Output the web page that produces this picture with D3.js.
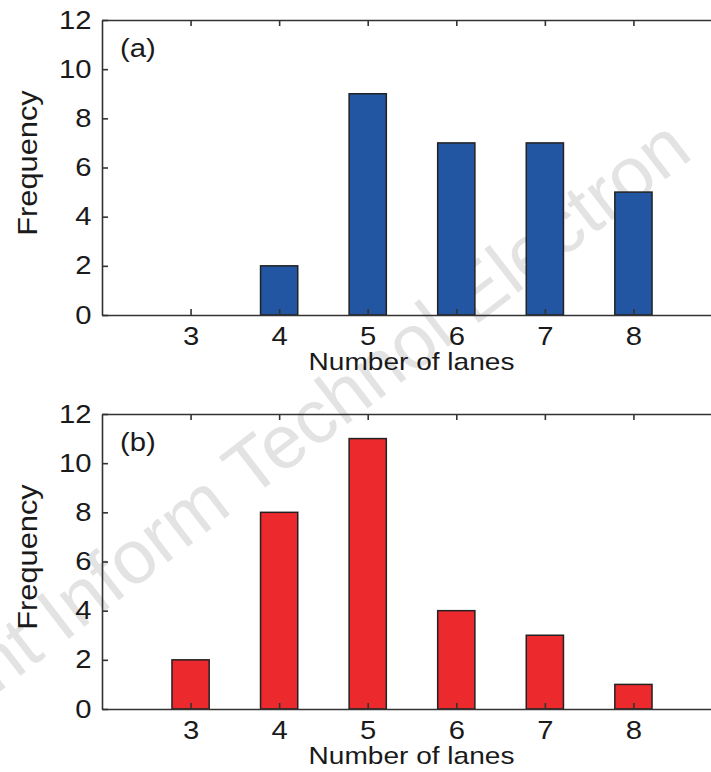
<!DOCTYPE html>
<html>
<head>
<meta charset="utf-8">
<script src="https://cdn.jsdelivr.net/npm/d3@7"></script>
<style>
  html, body { margin: 0; padding: 0; background: #fff; }
  svg { display: block; }
  text { font-family: "Liberation Sans", Arial, Helvetica, sans-serif; }
</style>
</head>
<body>
<script>
// ---- data ----
const lanes = [3, 4, 5, 6, 7, 8];
const freqA = [0, 2, 9, 7, 7, 5];
const freqB = [2, 8, 11, 4, 3, 1];
const yTicks = [0, 2, 4, 6, 8, 10, 12];
const xTicks = [3, 4, 5, 6, 7, 8];
const panelLabels = ["(a)", "(b)"];
const xLabel = "Number of lanes";
const yLabel = "Frequency";
const watermark = "Front Inform Technol Electron";

const W = 711, H = 772;
const svg = d3.select("body").append("svg").attr("width", W).attr("height", H);

// watermark (beneath everything)
svg.append("text")
  .attr("transform", "translate(-94,764) rotate(-37.6)")
  .attr("text-anchor", "start")
  .attr("font-size", 76)
  .attr("fill", "#e3e3e3")
  .text(watermark);

const SX = 1.17; // horizontal stretch of the original typesetting
const x = d3.scaleLinear().domain([2, 9]).range([102, 722]);
const barW = 0.42;
const fmt = d3.format("d");

const panels = [
  { vals: freqA, top: 20, bottom: 315, fill: "#2356a2", label: panelLabels[0] },
  { vals: freqB, top: 414, bottom: 709, fill: "#ec2a2d", label: panelLabels[1] }
];

panels.forEach(p => {
  const y = d3.scaleLinear().domain([0, 12]).range([p.bottom, p.top]);
  const g = svg.append("g");

  // bars
  g.selectAll("rect.bar")
    .data(lanes.map((l, i) => ({ l, v: p.vals[i] })).filter(d => d.v > 0))
    .join("rect")
    .attr("class", "bar")
    .attr("x", d => x(d.l - barW / 2))
    .attr("width", d => x(d.l + barW / 2) - x(d.l - barW / 2))
    .attr("y", d => y(d.v))
    .attr("height", d => y(0) - y(d.v))
    .attr("fill", p.fill)
    .attr("stroke", "#222")
    .attr("stroke-width", 1.5);

  // left axis
  const ya = g.append("g")
    .attr("transform", `translate(${x(2)},0)`)
    .call(d3.axisLeft(y).tickValues(yTicks).tickFormat(fmt).tickSizeInner(-6).tickSizeOuter(0).tickPadding(10.5));
  // bottom axis
  const xa = g.append("g")
    .attr("transform", `translate(0,${p.bottom})`)
    .call(d3.axisBottom(x).tickValues(xTicks).tickFormat(fmt).tickSizeInner(-6).tickSizeOuter(0).tickPadding(12));
  // top axis (ticks only)
  const ta = g.append("g")
    .attr("transform", `translate(0,${p.top})`)
    .call(d3.axisTop(x).tickValues(xTicks).tickSizeInner(-6).tickSizeOuter(0).tickFormat(""));

  [ya, xa, ta].forEach(a => {
    a.select(".domain").attr("stroke", "#333").attr("stroke-width", 1.6);
    a.selectAll(".tick line").attr("stroke", "#333").attr("stroke-width", 1.6);
    a.selectAll(".tick text")
      .attr("font-size", 25)
      .attr("fill", "#1a1a1a")
      .attr("font-family", "Liberation Sans, Arial, sans-serif");
  });
  ya.selectAll(".tick text").attr("x", -10.5 / SX).attr("transform", `scale(${SX},1)`);
  xa.selectAll(".tick text").attr("transform", `scale(${SX},1)`);

  // panel label
  g.append("text")
    .attr("transform", `translate(120,${p.top + 37}) scale(${SX},1)`)
    .attr("font-size", 25)
    .attr("fill", "#1a1a1a")
    .text(p.label);

  // x label
  g.append("text")
    .attr("transform", `translate(411.5,${p.bottom + 55}) scale(${SX},1)`)
    .attr("text-anchor", "middle")
    .attr("font-size", 24)
    .attr("fill", "#1a1a1a")
    .text(xLabel);

  // y label
  g.append("text")
    .attr("transform", `translate(37,${(p.top + p.bottom) / 2 - 4.5}) rotate(-90) scale(1.1,1)`)
    .attr("text-anchor", "middle")
    .attr("font-size", 28)
    .attr("fill", "#1a1a1a")
    .text(yLabel);
});
</script>
</body>
</html>
